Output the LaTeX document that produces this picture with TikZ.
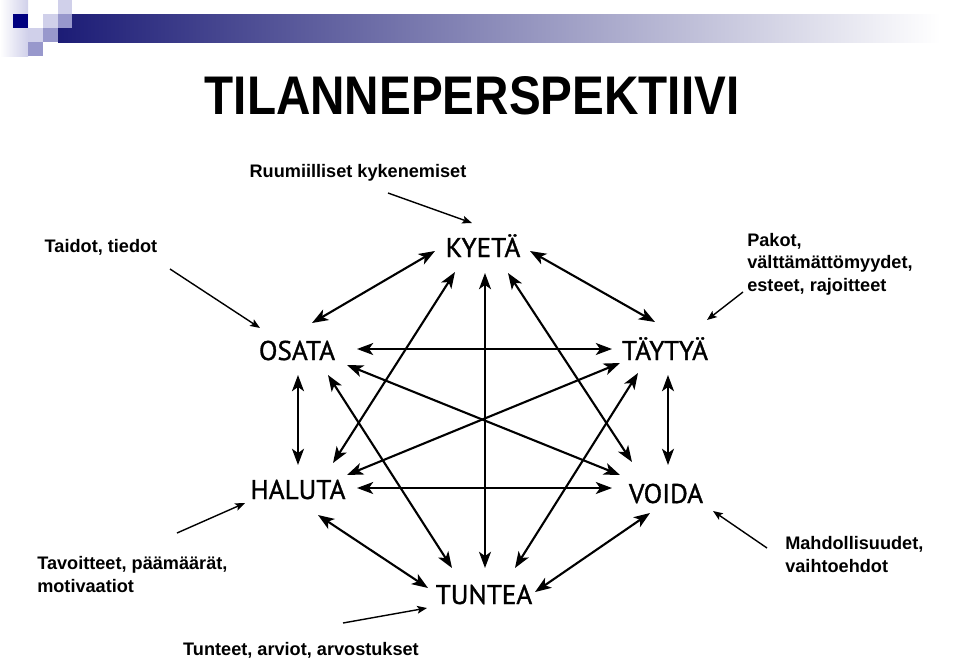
\documentclass[tikz,border=0pt]{standalone}
\usepackage{graphicx}
\usepackage{fontspec}
\setmainfont{Liberation Sans}
\newfontfamily\termfont[FakeBold=1.2]{PT Sans}
\usetikzlibrary{arrows.meta}
\definecolor{navy}{RGB}{0,0,128}
\definecolor{barblue}{RGB}{28,28,118}
\definecolor{lilac}{RGB}{208,208,234}
\definecolor{midlilac}{RGB}{152,152,204}

\begin{document}
\begin{tikzpicture}[x=0.025cm, y=-0.025cm,
  term/.style={anchor=base, inner sep=0pt, font=\termfont\fontsize{19.3}{22}\selectfont},
  note/.style={inner sep=0pt, align=left, font=\bfseries\fontsize{12.9}{16}\selectfont},
  link/.style={{Stealth[length=11.5pt,width=8.5pt,inset=3pt]}-{Stealth[length=11.5pt,width=8.5pt,inset=3pt]},
               line width=1.5pt},
  hint/.style={-{Stealth[length=7pt,width=5.5pt,inset=1.5pt]}, line width=1pt}]
\useasboundingbox (0,0) rectangle (959,660);
\shade[left color=white, right color=lilac] (0,0) rectangle (28,56);
\shade[left color=barblue, right color=white] (58,14) rectangle (940,42);
\fill[lilac]    (58,0) rectangle (72,14);
\fill[navy]     (13,14) rectangle (28,28);
\fill[lilac]    (43,14) rectangle (58,28);
\fill[midlilac] (58,14) rectangle (72,28);
\fill[lilac]    (28,28) rectangle (43,42);
\fill[midlilac] (43,28) rectangle (58,42);
\fill[midlilac] (28,42) rectangle (43,56);
\node[inner sep=0pt, anchor=base, font=\bfseries\fontsize{38.7}{40}\selectfont] (title) at (472,114)
  {\scalebox{0.875}[1]{TILANNEPERSPEKTIIVI}};
\node[term] (kyeta)  at (483,257) {KYETÄ};
\node[term] (osata)  at (297,360) {OSATA};
\node[term] (taytya) at (665,360) {TÄYTYÄ};
\node[term] (haluta) at (298,499) {HALUTA};
\node[term] (voida)  at (666,503) {VOIDA};
\node[term] (tuntea) at (484,604) {TUNTEA};
\node[note, anchor=base] (ruumis) at (358,177) {Ruumiilliset kykenemiset};
\node[note, anchor=base] (taidot) at (101,252) {Taidot, tiedot};
\node[note, anchor=base west] (pakot) at (747,291) {Pakot,\\välttämättömyydet,\\esteet, rajoitteet};
\node[note, anchor=base west] (tavoit) at (37,592) {Tavoitteet, päämäärät,\\motivaatiot};
\node[note, anchor=base west] (mahdol) at (785,572) {Mahdollisuudet,\\vaihtoehdot};
\node[note, anchor=base] (tunteet) at (301,655) {Tunteet, arviot, arvostukset};
\draw[link] ([shift={(-48,-6)}]kyeta.base) -- ([shift={(15,-37)}]osata.base);
\draw[link] ([shift={(47,-6)}]kyeta.base) -- ([shift={(-10,-38)}]taytya.base);
\draw[link] ([shift={(-28,15)}]kyeta.base) -- ([shift={(35,-36)}]haluta.base);
\draw[link] ([shift={(2,16)}]kyeta.base) -- ([shift={(1,-36)}]tuntea.base);
\draw[link] ([shift={(25,16)}]kyeta.base) -- ([shift={(-34,-41)}]voida.base);
\draw[link] ([shift={(60,-11)}]osata.base) -- ([shift={(-53,-11)}]taytya.base);
\draw[link] ([shift={(50,5)}]osata.base) -- ([shift={(-46,-28)}]voida.base);
\draw[link] ([shift={(31,15)}]osata.base) -- ([shift={(-32,-36)}]tuntea.base);
\draw[link] ([shift={(1,15)}]osata.base) -- ([shift={(0,-34)}]haluta.base);
\draw[link] ([shift={(-45,3)}]taytya.base) -- ([shift={(49,-24)}]haluta.base);
\draw[link] ([shift={(-27,13)}]taytya.base) -- ([shift={(31,-36)}]tuntea.base);
\draw[link] ([shift={(3,15)}]taytya.base) -- ([shift={(2,-38)}]voida.base);
\draw[link] ([shift={(59,-11)}]haluta.base) -- ([shift={(-54,-15)}]voida.base);
\draw[link] ([shift={(20,16)}]haluta.base) -- ([shift={(-56,-16)}]tuntea.base);
\draw[link] ([shift={(-16,10)}]voida.base) -- ([shift={(51,-12)}]tuntea.base);
\draw[hint] ([shift={(30,16)}]ruumis.base) -- ([shift={(-11,-34)}]kyeta.base);
\draw[hint] ([shift={(69,17)}]taidot.base) -- ([shift={(-37,-32)}]osata.base);
\draw[hint] ([shift={(-4,1)}]pakot.base west) -- ([shift={(42,-40)}]taytya.base);
\draw[hint] ([shift={(140,-59)}]tavoit.base west) -- ([shift={(-53,4)}]haluta.base);
\draw[hint] ([shift={(-18,-24)}]mahdol.base west) -- ([shift={(47,8)}]voida.base);
\draw[hint] ([shift={(42,-32)}]tunteet.base) -- ([shift={(-57,4)}]tuntea.base);
\end{tikzpicture}
\end{document}
